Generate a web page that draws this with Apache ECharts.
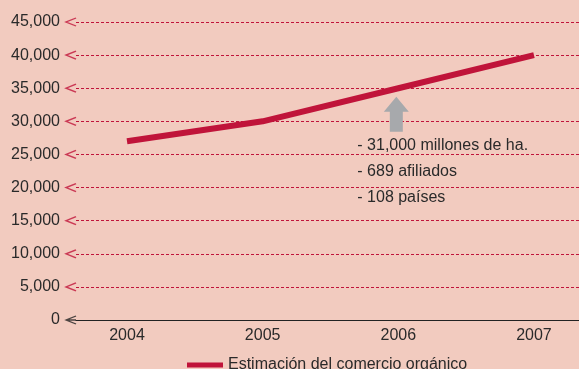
<!DOCTYPE html>
<html>
<head>
<meta charset="utf-8">
<script src="https://cdn.jsdelivr.net/npm/echarts@6/dist/echarts.min.js"></script>
<style>
  html, body { margin: 0; padding: 0; background: #f2cbbf; }
  #chart { width: 579px; height: 369px; }
</style>
</head>
<body>
<div id="chart"></div>
<script>
// Organic trade estimate by year
const years = [2004, 2005, 2006, 2007];
const tradeValues = [27000, 30000, 35000, 40000];
const yTicks = [0, 5000, 10000, 15000, 20000, 25000, 30000, 35000, 40000, 45000];
const seriesName = 'Estimación del comercio orgánico';
const noteLines = ['- 31,000 millones de ha.', '- 689 afiliados', '- 108 países'];
const noteYear = 2006;

const RED = '#c0143a';
const INK = '#2a2a2a';
const FONT = '"Liberation Sans", Arial, sans-serif';

// open chevron "<" used at the left end of each grid line
const chevron = 'path://M10,0 L0,4 L10,8';
const chevronWithStem = 'path://M10,0 L0,4 L10,8 M0,4 L10,4';
const upArrow = 'path://M12.5,0 L25,15 L19,15 L19,35 L6,35 L6,15 L0,15 Z';

const chart = echarts.init(document.getElementById('chart'), null, { renderer: 'canvas' });

const option = {
  backgroundColor: '#f2cbbf',
  animation: false,
  textStyle: { fontFamily: FONT },
  grid: { left: 76, right: 0, top: 22, bottom: 49, containLabel: false },
  xAxis: {
    type: 'value',
    min: 2003.624,
    max: 2007.332,
    axisLine: { show: true, lineStyle: { color: '#222', width: 1.2 } },
    axisTick: { show: false },
    splitLine: { show: false },
    axisLabel: {
      customValues: years,
      color: INK, fontSize: 16, fontFamily: FONT, margin: 8,
      formatter: v => String(Math.round(v))
    }
  },
  yAxis: {
    type: 'value',
    min: 0, max: 45000, interval: 5000,
    axisLine: { show: false },
    axisTick: { show: false },
    axisLabel: {
      color: INK, fontSize: 16, fontFamily: FONT, margin: 16,
      formatter: v => v.toLocaleString('en-US')
    },
    splitLine: { show: true, lineStyle: { color: RED, type: [3, 2], width: 1.2 } }
  },
  legend: {
    left: 182, top: 352,
    itemWidth: 36, itemHeight: 5, itemGap: 10,
    icon: 'rect',
    textStyle: { color: INK, fontSize: 16, fontFamily: FONT },
    data: [seriesName]
  },
  series: [
    {
      // grid-line chevrons
      type: 'scatter',
      silent: true,
      clip: false,
      symbol: chevron,
      symbolSize: [10, 8],
      symbolOffset: [-5, 0],
      itemStyle: { color: 'none', borderColor: RED, borderWidth: 1.5 },
      data: yTicks.filter(v => v > 0).map(v => [2003.624, v]),
      z: 3
    },
    {
      // axis chevron at zero
      type: 'scatter',
      silent: true,
      clip: false,
      symbol: chevronWithStem,
      symbolSize: [10, 8],
      symbolOffset: [-5, 0],
      itemStyle: { color: 'none', borderColor: '#222', borderWidth: 1.4 },
      data: [[2003.624, 0]],
      z: 3
    },
    {
      name: seriesName,
      type: 'line',
      data: years.map((y, i) => [y, tradeValues[i]]),
      symbol: 'none',
      itemStyle: { color: RED },
      lineStyle: { color: RED, width: 6, cap: 'butt' },
      z: 5,
      markPoint: {
        silent: true,
        symbol: upArrow,
        symbolSize: [25, 35],
        symbolOffset: [-2, 26],
        itemStyle: { color: '#a7a9ac' },
        label: { show: false },
        data: [{ coord: [noteYear, tradeValues[years.indexOf(noteYear)]] }]
      }
    }
  ]
};

chart.setOption(option);

// Notes below the arrow
const anchor = chart.convertToPixel({ gridIndex: 0 }, [noteYear, tradeValues[years.indexOf(noteYear)]]);
chart.setOption({
  graphic: noteLines.map((t, i) => ({
    type: 'text',
    left: anchor[0] - 41,
    top: anchor[1] + 49 + i * 26,
    style: { text: t, fill: INK, font: '16px ' + FONT }
  }))
});
</script>
</body>
</html>
